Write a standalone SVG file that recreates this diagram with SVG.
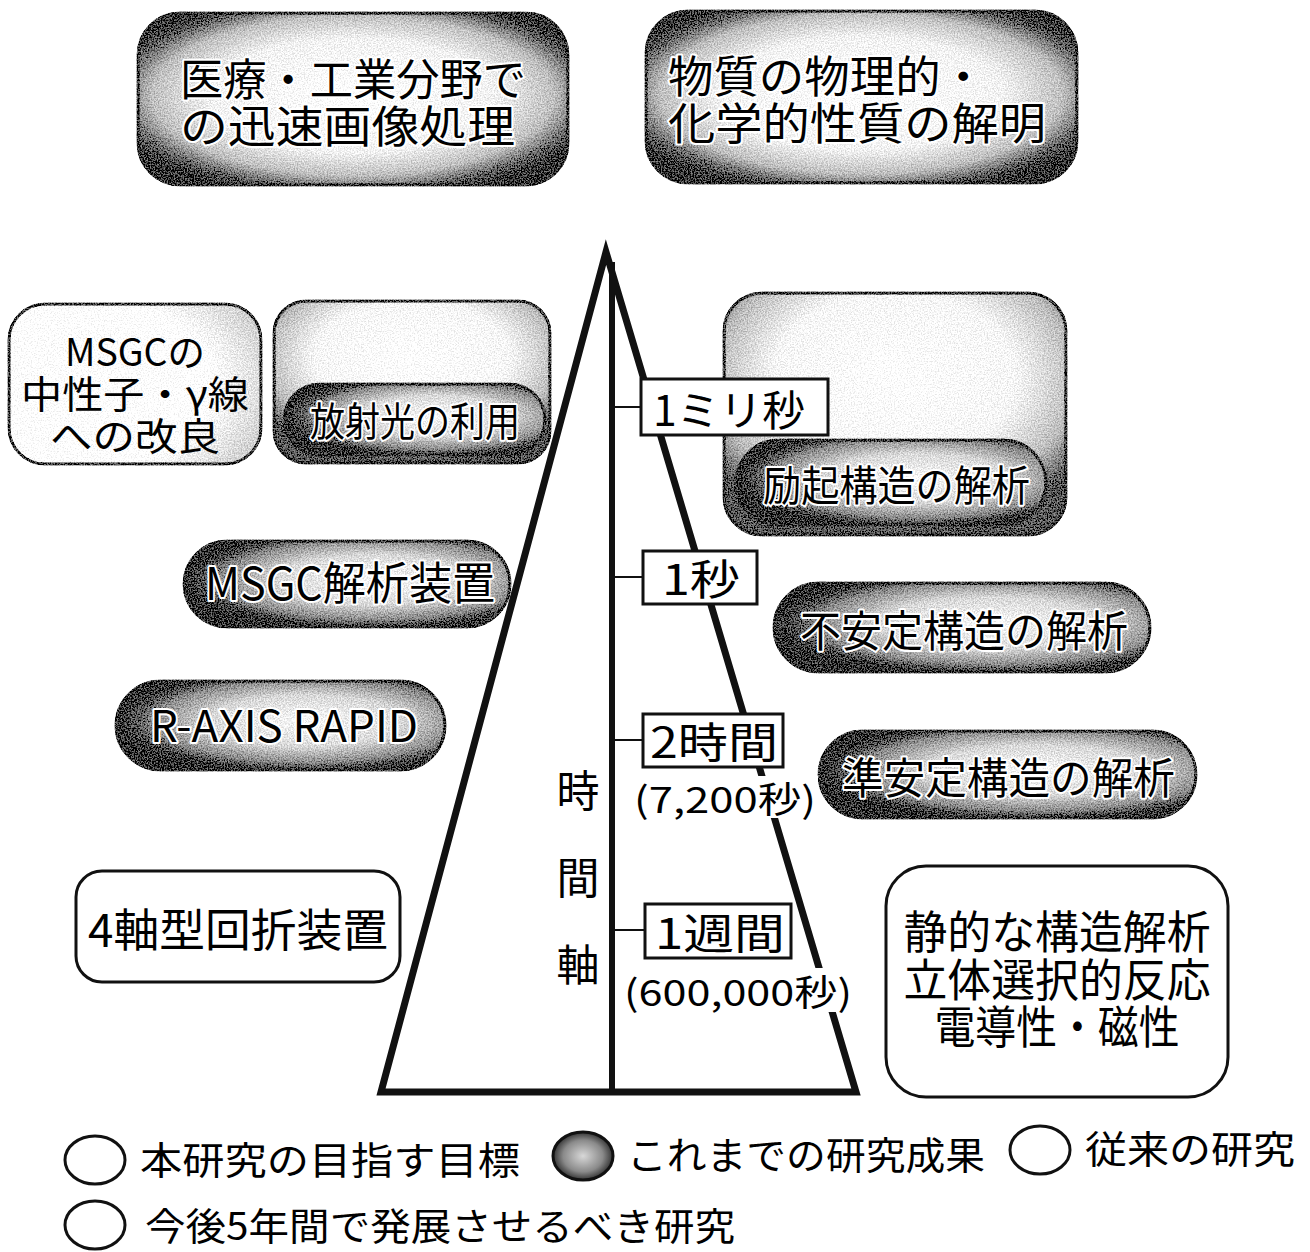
<svg xmlns="http://www.w3.org/2000/svg" width="1310" height="1252" viewBox="0 0 1310 1252">
<defs>
<radialGradient id="gTop" cx="50%" cy="48%" r="60%">
<stop offset="0" stop-color="#ffffff"/><stop offset="0.55" stop-color="#f0f0f0"/><stop offset="0.78" stop-color="#bcbcbc"/><stop offset="0.92" stop-color="#555"/><stop offset="1" stop-color="#1e1e1e"/>
</radialGradient>
<radialGradient id="gPill" cx="58%" cy="45%" r="58%">
<stop offset="0" stop-color="#f6f6f6"/><stop offset="0.5" stop-color="#d6d6d6"/><stop offset="0.8" stop-color="#888"/><stop offset="0.95" stop-color="#333"/><stop offset="1" stop-color="#151515"/>
</radialGradient>
<radialGradient id="gFrame" cx="50%" cy="35%" r="64%">
<stop offset="0" stop-color="#ffffff"/><stop offset="0.55" stop-color="#f5f5f5"/><stop offset="0.82" stop-color="#bbbbbb"/><stop offset="1" stop-color="#505050"/>
</radialGradient>
<radialGradient id="gLight" cx="25%" cy="50%" r="85%">
<stop offset="0" stop-color="#ffffff"/><stop offset="0.65" stop-color="#ffffff"/><stop offset="1" stop-color="#c8c8c8"/>
</radialGradient>
<radialGradient id="gDot" cx="50%" cy="50%" r="55%">
<stop offset="0" stop-color="#d8d8d8"/><stop offset="0.6" stop-color="#8a8a8a"/><stop offset="1" stop-color="#1a1a1a"/>
</radialGradient>
<filter id="grain" x="-2%" y="-2%" width="104%" height="104%">
<feTurbulence type="fractalNoise" baseFrequency="0.7" numOctaves="2" seed="5" result="n"/>
<feColorMatrix in="n" type="matrix" values="2.2 0 0 0 -0.6  2.2 0 0 0 -0.6  2.2 0 0 0 -0.6  0 0 0 0 1" result="g"/>
<feComposite in="SourceGraphic" in2="g" operator="arithmetic" k1="0" k2="1" k3="0.4" k4="-0.18" result="m"/>
<feComposite in="m" in2="SourceAlpha" operator="in"/>
</filter>
</defs>
<style>
text{font-family:"Noto Sans CJK JP","Noto Sans",sans-serif;fill:#000}
.o{stroke:#fff;stroke-width:4;paint-order:stroke;stroke-linejoin:round}
.shape{stroke:#111;stroke-width:3}
.plain{fill:#fff;stroke:#111;stroke-width:3}
.lbl{fill:#fff;stroke:#111;stroke-width:3}
.tick{stroke:#111;stroke-width:2}
</style>
<rect width="1310" height="1252" fill="#fff"/>

<g id="connectors">
<polygon points="606,252 381,1092 856,1092" fill="none" stroke="#111" stroke-width="7" stroke-linejoin="miter"/>
<line x1="612" y1="262" x2="612" y2="1092" stroke="#111" stroke-width="6"/>
<line class="tick" x1="612" y1="407" x2="641" y2="407"/>
<line class="tick" x1="612" y1="577" x2="643" y2="577"/>
<line class="tick" x1="612" y1="740" x2="643" y2="740"/>
<line class="tick" x1="612" y1="930" x2="645" y2="930"/>
</g>

<g id="node-top-left">
<rect class="shape" x="138" y="13" width="430" height="172" rx="42" fill="url(#gTop)" filter="url(#grain)"/>
<text class="o" x="180" y="96" font-size="44" textLength="346" lengthAdjust="spacingAndGlyphs">医療・工業分野で</text>
<text class="o" x="180" y="143" font-size="44" textLength="335" lengthAdjust="spacingAndGlyphs">の迅速画像処理</text>
</g>

<g id="node-top-right">
<rect class="shape" x="646" y="11" width="431" height="172" rx="42" fill="url(#gTop)" filter="url(#grain)"/>
<text class="o" x="668" y="93" font-size="44" textLength="318" lengthAdjust="spacingAndGlyphs">物質の物理的・</text>
<text class="o" x="668" y="140" font-size="44" textLength="378" lengthAdjust="spacingAndGlyphs">化学的性質の解明</text>
</g>

<g id="node-msgc-improve">
<rect class="shape" x="9" y="304" width="252" height="160" rx="36" fill="url(#gLight)" filter="url(#grain)"/>
<text x="135" y="366" font-size="38" text-anchor="middle" textLength="140" lengthAdjust="spacingAndGlyphs">MSGCの</text>
<text x="135" y="408" font-size="38" text-anchor="middle" textLength="228" lengthAdjust="spacingAndGlyphs">中性子・γ線</text>
<text x="135" y="450" font-size="38" text-anchor="middle" textLength="170" lengthAdjust="spacingAndGlyphs">への改良</text>
</g>

<g id="node-synchrotron">
<rect class="shape" x="274" y="301" width="276" height="162" rx="32" fill="url(#gFrame)" filter="url(#grain)"/>
<rect class="shape" x="284" y="384" width="261" height="71" rx="35.5" fill="url(#gPill)" filter="url(#grain)"/>
<text class="o" x="310" y="436" font-size="40" textLength="210" lengthAdjust="spacingAndGlyphs">放射光の利用</text>
</g>

<g id="node-excited">
<rect class="shape" x="724" y="293" width="342" height="242" rx="38" fill="url(#gFrame)" filter="url(#grain)"/>
<rect class="shape" x="736" y="440" width="310" height="85" rx="42.5" fill="url(#gPill)" filter="url(#grain)"/>
<text class="o" x="763" y="501" font-size="42" textLength="267" lengthAdjust="spacingAndGlyphs">励起構造の解析</text>
</g>

<g id="node-msgc-analyzer">
<rect class="shape" x="184" y="541" width="326" height="86" rx="43" fill="url(#gPill)" filter="url(#grain)"/>
<text class="o" x="205" y="600" font-size="45" textLength="290" lengthAdjust="spacingAndGlyphs">MSGC解析装置</text>
</g>

<g id="node-raxis">
<rect class="shape" x="116" y="681" width="329" height="89" rx="44.5" fill="url(#gPill)" filter="url(#grain)"/>
<text class="o" x="150" y="742" font-size="44" textLength="268" lengthAdjust="spacingAndGlyphs">R-AXIS RAPID</text>
</g>

<g id="node-4axis">
<rect class="plain" x="76" y="871" width="324" height="111" rx="26"/>
<text x="88" y="947" font-size="45" textLength="300" lengthAdjust="spacingAndGlyphs">4軸型回折装置</text>
</g>

<g id="node-unstable">
<rect class="shape" x="774" y="583" width="376" height="89" rx="44.5" fill="url(#gPill)" filter="url(#grain)"/>
<text class="o" x="800" y="647" font-size="43" textLength="328" lengthAdjust="spacingAndGlyphs">不安定構造の解析</text>
</g>

<g id="node-metastable">
<rect class="shape" x="819" y="731" width="377" height="87" rx="43.5" fill="url(#gPill)" filter="url(#grain)"/>
<text class="o" x="842" y="794" font-size="43" textLength="333" lengthAdjust="spacingAndGlyphs">準安定構造の解析</text>
</g>

<g id="node-static">
<rect class="plain" x="886" y="866" width="342" height="231" rx="40"/>
<text x="1057" y="949" font-size="45" text-anchor="middle" textLength="307" lengthAdjust="spacingAndGlyphs">静的な構造解析</text>
<text x="1057" y="997" font-size="45" text-anchor="middle" textLength="307" lengthAdjust="spacingAndGlyphs">立体選択的反応</text>
<text x="1057" y="1044" font-size="45" text-anchor="middle" textLength="245" lengthAdjust="spacingAndGlyphs">電導性・磁性</text>
</g>

<g id="time-1ms">
<rect class="lbl" x="641" y="379" width="187" height="56"/>
<text x="653" y="426" font-size="42" textLength="152" lengthAdjust="spacingAndGlyphs">1ミリ秒</text>
</g>
<g id="time-1s">
<rect class="lbl" x="643" y="551" width="114" height="53"/>
<text x="662" y="595" font-size="42" textLength="78" lengthAdjust="spacingAndGlyphs">1秒</text>
</g>
<g id="time-2h">
<rect class="lbl" x="643" y="714" width="140" height="53"/>
<text x="650" y="758" font-size="42" textLength="128" lengthAdjust="spacingAndGlyphs">2時間</text>
<rect x="632" y="776" width="186" height="42" fill="#fff"/>
<text x="634" y="813" font-size="36" textLength="182" lengthAdjust="spacingAndGlyphs">(7,200秒)</text>
</g>
<g id="time-1w">
<rect class="lbl" x="645" y="904" width="146" height="54"/>
<text x="655" y="949" font-size="42" textLength="130" lengthAdjust="spacingAndGlyphs">1週間</text>
<rect x="622" y="968" width="232" height="44" fill="#fff"/>
<text x="624" y="1006" font-size="36" textLength="228" lengthAdjust="spacingAndGlyphs">(600,000秒)</text>
</g>
<g id="axis-label">
<text x="578" y="807" font-size="43" text-anchor="middle">時</text>
<text x="578" y="894" font-size="43" text-anchor="middle">間</text>
<text x="578" y="981" font-size="43" text-anchor="middle">軸</text>
</g>

<g id="legend">
<ellipse cx="95" cy="1160" rx="30" ry="24" fill="#fff" stroke="#111" stroke-width="3"/>
<text x="140" y="1174" font-size="38" textLength="380" lengthAdjust="spacingAndGlyphs">本研究の目指す目標</text>
<ellipse cx="583" cy="1156" rx="30" ry="24" fill="url(#gDot)" stroke="#111" stroke-width="3"/>
<text x="627" y="1169" font-size="38" textLength="358" lengthAdjust="spacingAndGlyphs">これまでの研究成果</text>
<ellipse cx="1040" cy="1150" rx="30" ry="24" fill="#fff" stroke="#111" stroke-width="3"/>
<text x="1085" y="1163" font-size="38" textLength="210" lengthAdjust="spacingAndGlyphs">従来の研究</text>
<ellipse cx="95" cy="1225" rx="30" ry="24" fill="#fff" stroke="#111" stroke-width="3"/>
<text x="145" y="1240" font-size="38" textLength="590" lengthAdjust="spacingAndGlyphs">今後5年間で発展させるべき研究</text>
</g>
</svg>
